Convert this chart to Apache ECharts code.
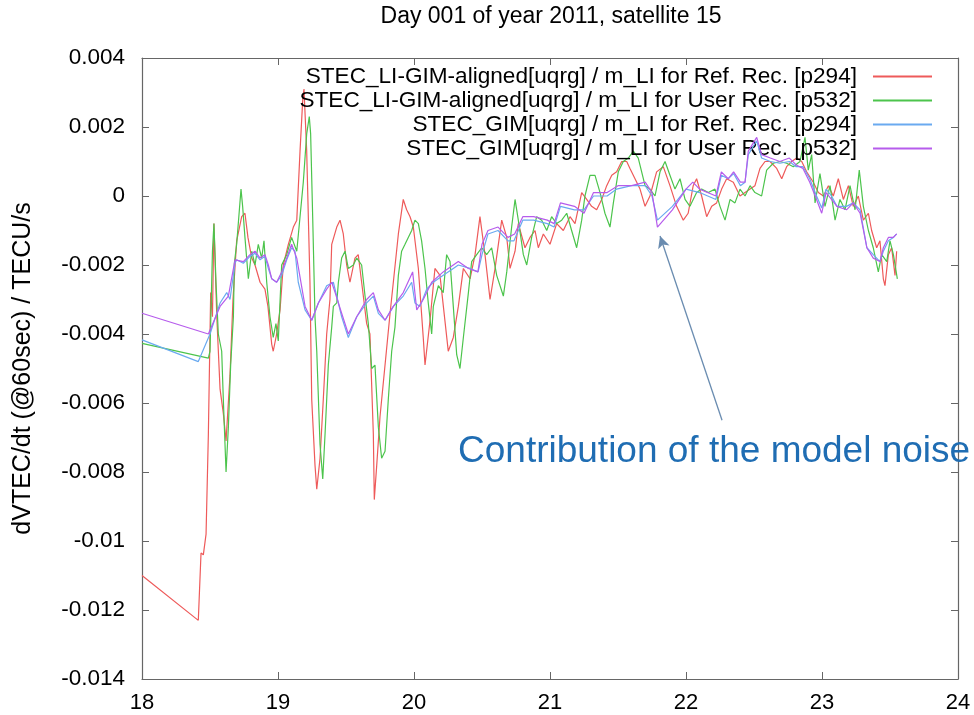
<!DOCTYPE html>
<html>
<head>
<meta charset="utf-8">
<script src="https://cdn.jsdelivr.net/npm/echarts@6/dist/echarts.min.js"></script>
<style>
html,body{margin:0;padding:0;background:#fff;}
#chart{width:974px;height:715px;}
</style>
</head>
<body>
<div id="chart"></div>
<script>
const titleText = 'Day 001 of year 2011, satellite 15';
const yAxisName = 'dVTEC/dt (@60sec) / TECU/s';
const annotationText = 'Contribution of the model noise';
const seriesNames = [
  'STEC_LI-GIM-aligned[uqrg] / m_LI for Ref. Rec. [p294]',
  'STEC_LI-GIM-aligned[uqrg] / m_LI for User Rec. [p532]',
  'STEC_GIM[uqrg] / m_LI for Ref. Rec. [p294]',
  'STEC_GIM[uqrg] / m_LI for User Rec. [p532]'
];
const xTicks = [18, 19, 20, 21, 22, 23, 24];
const yTicks = [-0.014, -0.012, -0.01, -0.008, -0.006, -0.004, -0.002, 0, 0.002, 0.004];
const arrowFrom = [22.265, -0.0065];
const arrowTo = [21.809, -0.00116];

const refLI = [[18.0,-0.0110],[18.414,-0.0123],[18.434,-0.01035],[18.451,-0.0104],[18.471,-0.0098],[18.488,-0.0069],[18.5,-0.0040],[18.505,-0.0028],[18.518,-0.0035],[18.529,-0.0008],[18.55,-0.0035],[18.574,-0.0056],[18.598,-0.0063],[18.618,-0.0071],[18.647,-0.0052],[18.669,-0.0030],[18.696,-0.0013],[18.733,-0.0006],[18.757,-0.0005],[18.779,-0.0012],[18.807,-0.0018],[18.831,-0.0020],[18.868,-0.0025],[18.904,-0.0027],[18.926,-0.0032],[18.954,-0.0043],[18.965,-0.0045],[18.99,-0.0040],[19.015,-0.0033],[19.039,-0.0020],[19.076,-0.0014],[19.113,-0.0009],[19.138,-0.0007],[19.162,0.0013],[19.182,0.0028],[19.191,0.0031],[19.211,0.0013],[19.235,-0.0025],[19.248,-0.0059],[19.272,-0.0078],[19.285,-0.0085],[19.309,-0.0076],[19.333,-0.0059],[19.358,-0.0040],[19.382,-0.0030],[19.395,-0.0014],[19.432,-0.0009],[19.456,-0.0007],[19.48,-0.0011],[19.505,-0.0020],[19.529,-0.0025],[19.566,-0.0018],[19.59,-0.0017],[19.615,-0.0025],[19.652,-0.0037],[19.676,-0.0040],[19.701,-0.0069],[19.708,-0.0088],[19.726,-0.0078],[19.75,-0.0064],[19.787,-0.0049],[19.824,-0.0034],[19.848,-0.0025],[19.885,-0.0011],[19.921,-0.0001],[19.946,-0.0004],[19.971,-0.0006],[19.995,-0.0009],[20.032,-0.0021],[20.068,-0.0041],[20.081,-0.0049],[20.118,-0.0036],[20.154,-0.0021],[20.191,-0.0023],[20.252,-0.0045],[20.289,-0.0041],[20.326,-0.0032],[20.363,-0.0021],[20.412,-0.0024],[20.449,-0.0017],[20.485,-0.0006],[20.522,-0.0017],[20.559,-0.0030],[20.596,-0.0021],[20.645,-0.0007],[20.682,-0.0012],[20.706,-0.0021],[20.743,-0.0016],[20.767,-0.0008],[20.816,-0.0015],[20.853,-0.0012],[20.89,-0.0010],[20.914,-0.0015],[20.951,-0.0011],[21.0,-0.0014],[21.049,-0.0008],[21.098,-0.0010],[21.147,-0.0006],[21.184,-0.0008],[21.233,0.0001],[21.27,-0.0001],[21.306,-0.0003],[21.343,-0.0004],[21.38,-0.0001],[21.417,0.0003],[21.454,0.0006],[21.49,0.0007],[21.527,0.0010],[21.564,0.0010],[21.588,0.0008],[21.625,0.0005],[21.662,0.0002],[21.699,-0.0003],[21.735,0.0000],[21.784,0.0007],[21.833,0.00085],[21.882,0.0003],[21.931,-0.0003],[21.98,-0.0007],[22.016,-0.0005],[22.053,0.0003],[22.078,0.0005],[22.115,0.0000],[22.152,-0.0006],[22.189,-0.0003],[22.225,-0.0002],[22.262,0.0002],[22.299,0.0005],[22.348,0.0004],[22.397,0.0000],[22.434,0.0001],[22.471,0.0002],[22.507,0.0003],[22.544,0.0008],[22.581,0.0010],[22.618,0.0010],[22.667,0.0008],[22.704,0.0005],[22.74,0.00085],[22.777,0.0010],[22.814,0.0011],[22.851,0.0010],[22.887,0.0007],[22.936,0.0004],[22.973,0.0001],[23.01,0.0000],[23.047,0.0003],[23.083,0.0000],[23.12,0.0005],[23.157,-0.0001],[23.194,0.0003],[23.23,-0.0003],[23.267,0.0000],[23.304,-0.0007],[23.341,-0.0005],[23.365,-0.0010],[23.402,-0.0015],[23.426,-0.0013],[23.451,-0.0024],[23.463,-0.0026],[23.488,-0.0017],[23.512,-0.0015],[23.537,-0.0023],[23.549,-0.0016]];

const userLI = [[18.0,-0.00427],[18.488,-0.0047],[18.5,-0.0045],[18.518,-0.0016],[18.529,-0.0008],[18.544,-0.0025],[18.561,-0.0040],[18.586,-0.0045],[18.598,-0.0059],[18.618,-0.0080],[18.635,-0.0067],[18.652,-0.0049],[18.672,-0.0035],[18.679,-0.00195],[18.696,-0.0014],[18.716,-0.0004],[18.728,0.0002],[18.74,-0.0003],[18.757,-0.0012],[18.782,-0.0024],[18.807,-0.0016],[18.831,-0.0020],[18.855,-0.0014],[18.88,-0.0018],[18.897,-0.0013],[18.917,-0.0025],[18.941,-0.0035],[18.965,-0.0041],[18.985,-0.0037],[19.002,-0.0042],[19.027,-0.0020],[19.064,-0.0017],[19.1,-0.0012],[19.138,-0.0016],[19.162,-0.0006],[19.186,0.0004],[19.211,0.0018],[19.23,0.0023],[19.24,0.0018],[19.255,-0.0006],[19.272,-0.0035],[19.285,-0.0045],[19.309,-0.0072],[19.329,-0.0082],[19.346,-0.0069],[19.37,-0.0049],[19.395,-0.0038],[19.407,-0.0032],[19.432,-0.0031],[19.444,-0.0025],[19.468,-0.0018],[19.493,-0.0016],[19.517,-0.0021],[19.554,-0.0020],[19.579,-0.0018],[19.615,-0.0020],[19.64,-0.0029],[19.664,-0.0037],[19.689,-0.0050],[19.713,-0.0049],[19.738,-0.0067],[19.762,-0.0076],[19.787,-0.0074],[19.811,-0.0059],[19.836,-0.0045],[19.86,-0.0038],[19.885,-0.0023],[19.909,-0.0016],[19.934,-0.0014],[19.958,-0.0012],[19.983,-0.0010],[20.007,-0.0007],[20.032,-0.0008],[20.056,-0.0013],[20.081,-0.0021],[20.105,-0.0031],[20.13,-0.0040],[20.142,-0.0032],[20.179,-0.0026],[20.215,-0.0028],[20.24,-0.0017],[20.265,-0.0019],[20.289,-0.0032],[20.314,-0.0046],[20.338,-0.0050],[20.363,-0.0041],[20.4,-0.0028],[20.424,-0.0019],[20.461,-0.0017],[20.498,-0.0015],[20.534,-0.0017],[20.571,-0.0015],[20.608,-0.0023],[20.657,-0.0029],[20.682,-0.0022],[20.718,-0.0009],[20.743,-0.0001],[20.767,-0.0007],[20.804,-0.0017],[20.829,-0.0020],[20.865,-0.0012],[20.902,-0.0006],[20.939,-0.0007],[20.976,-0.0010],[21.012,-0.0006],[21.049,-0.0008],[21.086,-0.0007],[21.123,-0.0005],[21.159,-0.0010],[21.196,-0.0015],[21.233,-0.0007],[21.257,0.0000],[21.294,0.0006],[21.331,0.0006],[21.368,0.0001],[21.404,-0.0005],[21.441,-0.0009],[21.466,-0.0002],[21.502,0.0007],[21.539,0.0010],[21.576,0.0011],[21.613,0.0013],[21.649,0.0011],[21.699,0.0003],[21.735,0.0002],[21.772,0.0000],[21.809,0.0007],[21.846,0.0010],[21.882,0.0006],[21.919,0.0002],[21.956,0.0005],[21.993,-0.0001],[22.029,-0.0003],[22.078,0.0001],[22.115,0.0002],[22.164,0.0001],[22.213,0.0002],[22.25,-0.0003],[22.287,-0.0007],[22.324,-0.0001],[22.36,-0.0002],[22.397,0.0002],[22.434,0.0000],[22.471,0.0003],[22.507,0.0001],[22.556,0.0000],[22.593,0.00075],[22.642,0.00095],[22.691,0.0010],[22.74,0.00095],[22.789,0.00085],[22.838,0.0010],[22.875,0.0017],[22.899,0.00075],[22.924,0.0012],[22.949,-0.0002],[22.985,0.00065],[23.022,-0.0003],[23.059,0.0003],[23.096,-0.0007],[23.132,-0.0001],[23.169,-0.0004],[23.206,0.0003],[23.243,-0.0004],[23.274,0.00075],[23.304,-0.0003],[23.341,-0.0010],[23.377,-0.0015],[23.414,-0.0022],[23.439,-0.0017],[23.476,-0.0019],[23.5,-0.0013],[23.525,-0.0017],[23.554,-0.0024]];

const gimRef = [[18.0,-0.00417],[18.414,-0.0048],[18.5,-0.0040],[18.574,-0.0031],[18.623,-0.0028],[18.647,-0.0030],[18.684,-0.00195],[18.696,-0.00185],[18.745,-0.00195],[18.794,-0.00175],[18.831,-0.00166],[18.868,-0.00185],[18.904,-0.00175],[18.929,-0.0021],[18.954,-0.0024],[18.99,-0.0025],[19.027,-0.0023],[19.064,-0.00185],[19.1,-0.0015],[19.125,-0.0016],[19.149,-0.0025],[19.199,-0.0033],[19.248,-0.0036],[19.297,-0.0031],[19.358,-0.0026],[19.407,-0.0025],[19.432,-0.0029],[19.468,-0.0035],[19.517,-0.0041],[19.579,-0.0035],[19.652,-0.0031],[19.701,-0.0029],[19.738,-0.0034],[19.787,-0.0036],[19.848,-0.0032],[19.921,-0.0029],[19.983,-0.0025],[20.007,-0.0031],[20.044,-0.0032],[20.093,-0.0027],[20.142,-0.0025],[20.215,-0.0023],[20.289,-0.0021],[20.326,-0.0020],[20.412,-0.0021],[20.471,-0.0022],[20.5,-0.0017],[20.544,-0.0011],[20.618,-0.0010],[20.691,-0.0013],[20.735,-0.0013],[20.8,-0.0007],[20.88,-0.0007],[20.98,-0.0008],[21.03,-0.0009],[21.077,-0.0003],[21.18,-0.0004],[21.25,-0.0004],[21.32,0.0000],[21.42,0.0000],[21.49,0.0002],[21.6,0.0003],[21.7,0.0003],[21.75,0.0000],[21.79,-0.0007],[21.9,-0.0003],[22.0,0.0002],[22.1,0.0001],[22.22,-0.0001],[22.26,0.0006],[22.31,0.0005],[22.35,0.00065],[22.4,0.0003],[22.434,0.0004],[22.458,0.0012],[22.52,0.0016],[22.556,0.0011],[22.62,0.0010],[22.69,0.00095],[22.76,0.0010],[22.81,0.00085],[22.86,0.00085],[22.91,0.0005],[22.96,0.0000],[22.998,-0.00035],[23.03,0.0002],[23.07,0.0000],[23.11,-0.0003],[23.18,-0.0003],[23.23,-0.0002],[23.28,-0.0004],[23.33,-0.0015],[23.377,-0.0017],[23.426,-0.0019],[23.451,-0.0016],[23.488,-0.0013],[23.525,-0.0012],[23.549,-0.0011]];

const gimUser = [[18.0,-0.0034],[18.488,-0.0040],[18.574,-0.0032],[18.635,-0.0029],[18.684,-0.00185],[18.745,-0.0019],[18.794,-0.0017],[18.831,-0.0016],[18.868,-0.0018],[18.904,-0.0017],[18.929,-0.0020],[18.954,-0.0024],[18.99,-0.0025],[19.027,-0.0022],[19.064,-0.0018],[19.1,-0.0014],[19.138,-0.0018],[19.199,-0.0032],[19.248,-0.0036],[19.297,-0.0031],[19.358,-0.0027],[19.395,-0.0025],[19.42,-0.0028],[19.468,-0.0034],[19.517,-0.0040],[19.579,-0.0035],[19.652,-0.0030],[19.701,-0.0028],[19.738,-0.0033],[19.787,-0.0036],[19.848,-0.0032],[19.921,-0.0028],[19.99,-0.0022],[20.02,-0.0033],[20.068,-0.0030],[20.13,-0.0025],[20.215,-0.0022],[20.289,-0.0020],[20.326,-0.0019],[20.4,-0.0021],[20.47,-0.0022],[20.5,-0.0014],[20.544,-0.0010],[20.618,-0.0009],[20.691,-0.0012],[20.74,-0.0011],[20.8,-0.0006],[20.88,-0.0006],[20.98,-0.0007],[21.03,-0.0008],[21.077,-0.0002],[21.18,-0.0003],[21.25,-0.0005],[21.32,0.0001],[21.42,0.0001],[21.5,0.0003],[21.6,0.0003],[21.7,0.0004],[21.75,0.0001],[21.79,-0.0009],[21.9,-0.0004],[22.0,0.0002],[22.05,0.0004],[22.1,0.0002],[22.22,0.0000],[22.26,0.0007],[22.31,0.0005],[22.35,0.0007],[22.4,0.0004],[22.434,0.0004],[22.458,0.0013],[22.52,0.0017],[22.556,0.0012],[22.62,0.0011],[22.69,0.0010],[22.76,0.0011],[22.81,0.0009],[22.86,0.0008],[22.91,0.0004],[22.96,-0.0001],[22.998,-0.0005],[23.03,0.0001],[23.07,-0.0001],[23.11,-0.0003],[23.18,-0.0004],[23.23,-0.0002],[23.28,-0.0005],[23.33,-0.0015],[23.377,-0.0018],[23.426,-0.0019],[23.451,-0.0015],[23.488,-0.0012],[23.525,-0.0012],[23.549,-0.0011]];

const seriesData = [refLI, userLI, gimRef, gimUser];
const colors = ['#ee5a5a', '#4cc44c', '#6aaaf0', '#b65cec'];

const FONT = 'Liberation Sans, Arial, sans-serif';
const frameColor = '#666';
const fmt = v => String(Number(v.toFixed(3)));

const chart = echarts.init(document.getElementById('chart'), null, {renderer: 'canvas'});

const series = seriesNames.map((name, i) => ({
  name: name,
  type: 'line',
  data: seriesData[i],
  symbol: 'none',
  showSymbol: false,
  smooth: false,
  clip: true,
  lineStyle: {color: colors[i], width: 1.2},
  itemStyle: {color: colors[i]},
  z: 2 + i
}));
series[3].markLine = {
  silent: true,
  symbol: ['none', 'arrow'],
  symbolSize: [9, 12],
  label: {show: false},
  lineStyle: {color: '#6a8cb0', width: 1.3, type: 'solid'},
  data: [[{coord: arrowFrom}, {coord: arrowTo}]]
};

const commonAxis = {
  type: 'value',
  axisLine: {show: true, onZero: false, lineStyle: {color: frameColor, width: 1.2}},
  axisTick: {show: true, inside: true, length: 7, lineStyle: {color: frameColor, width: 1}},
  splitLine: {show: false}
};

chart.setOption({
  animation: false,
  backgroundColor: '#fff',
  color: colors,
  grid: {left: 142, right: 16, top: 58, bottom: 36, containLabel: false},
  legend: {
    orient: 'vertical',
    right: 42,
    top: 65,
    align: 'right',
    padding: 0,
    itemGap: 1,
    itemWidth: 59,
    itemHeight: 2,
    icon: 'rect',
    data: seriesNames,
    selectedMode: false,
    textStyle: {fontFamily: FONT, fontSize: 22.6, color: '#000', lineHeight: 22, padding: [0, 11, 0, 0]}
  },
  xAxis: [
    Object.assign({}, commonAxis, {
      min: xTicks[0], max: xTicks[xTicks.length - 1], interval: 1,
      position: 'bottom',
      axisLabel: {show: true, margin: 13, fontFamily: FONT, fontSize: 22, color: '#000', formatter: v => String(v)}
    }),
    Object.assign({}, commonAxis, {
      min: xTicks[0], max: xTicks[xTicks.length - 1], interval: 1,
      position: 'top',
      axisLabel: {show: false}
    })
  ],
  yAxis: [
    Object.assign({}, commonAxis, {
      min: yTicks[0], max: yTicks[yTicks.length - 1], interval: 0.002,
      position: 'left',
      name: yAxisName,
      nameLocation: 'middle',
      nameGap: 106,
      nameTextStyle: {fontFamily: FONT, fontSize: 25, color: '#000'},
      axisLabel: {show: true, margin: 17, fontFamily: FONT, fontSize: 22.5, color: '#000', formatter: fmt}
    }),
    Object.assign({}, commonAxis, {
      min: yTicks[0], max: yTicks[yTicks.length - 1], interval: 0.002,
      position: 'right',
      axisLabel: {show: false}
    })
  ],
  graphic: [
    {type: 'text', x: 551, y: 17, silent: true,
     style: {text: titleText, textAlign: 'center', textVerticalAlign: 'middle', font: '23px ' + FONT, fill: '#000'}},
    {type: 'text', x: 458, y: 452, silent: true, z: 100,
     style: {text: annotationText, textAlign: 'left', textVerticalAlign: 'middle', font: '37px ' + FONT, fill: '#1f6db3'}}
  ],
  series: series
});
</script>
</body>
</html>
